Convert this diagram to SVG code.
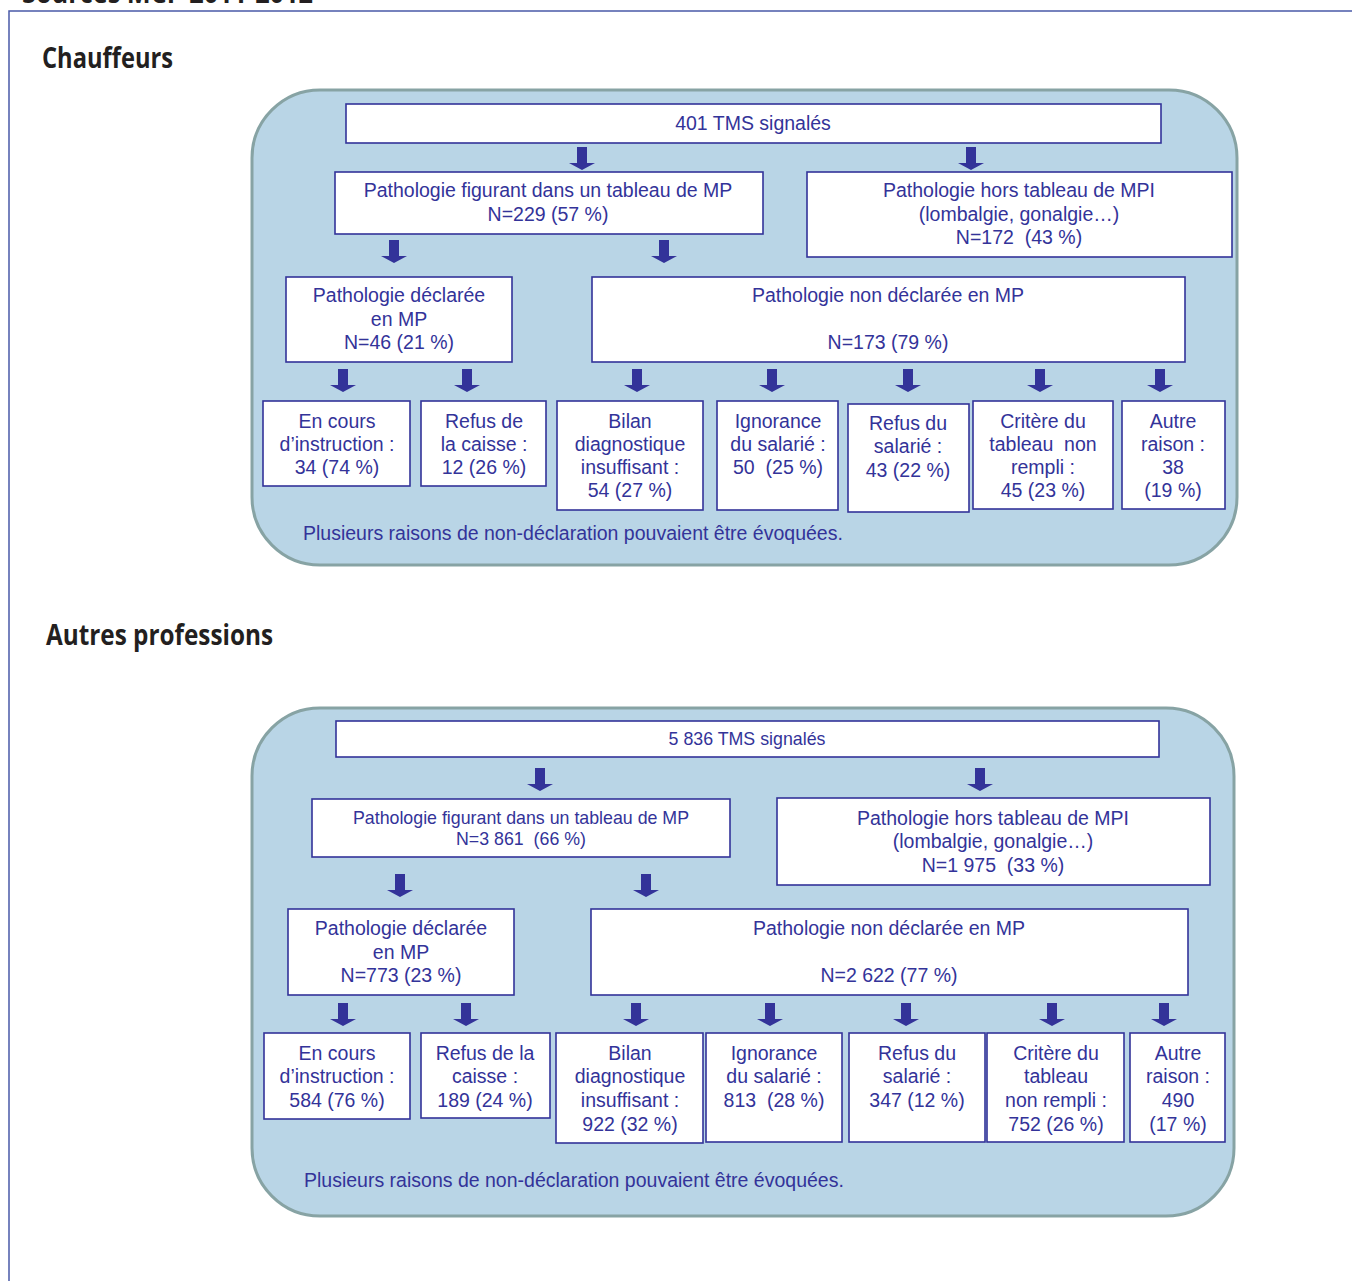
<svg xmlns="http://www.w3.org/2000/svg" xmlns:xlink="http://www.w3.org/1999/xlink" width="1352" height="1281" viewBox="0 0 1352 1281">
<style>
.bg{fill:#ffffff}
.frame{fill:none;stroke:#4a5aa8;stroke-width:1.5}
.panel{fill:#b9d5e6;stroke:#87a3a4;stroke-width:3}
.box{fill:#ffffff;stroke:#333399;stroke-width:1.6}
.t{font-family:"Liberation Sans",Arial,sans-serif;font-size:19.5px;fill:#333399;text-anchor:middle;white-space:pre}
.ts{font-size:17.8px}
.note{font-family:"Liberation Sans",Arial,sans-serif;font-size:19.5px;fill:#333399}
.h{font-family:"Open Sans","Noto Sans",sans-serif;font-weight:700;font-size:28px;fill:#231f20}
.arr{fill:#333399}
</style>
<defs>
<path id="arr" d="M-5,0 H5 V16 H13 L0,23 L-13,16 H-5 Z"/>
</defs>
<rect class="bg" x="0" y="0" width="1352" height="1281"/>
<text class="h" x="22" y="3" textLength="291" lengthAdjust="spacingAndGlyphs">Sources MCP 2011-2012</text>
<path class="frame" d="M9,1281 V11 H1352"/>
<text class="h" x="42" y="68" textLength="131" lengthAdjust="spacingAndGlyphs">Chauffeurs</text>
<text class="h" x="46" y="645" textLength="227" lengthAdjust="spacingAndGlyphs">Autres professions</text>

<!-- Panel 1 -->
<rect class="panel" x="252" y="90" width="985" height="475" rx="68" ry="68"/>
<g id="p1-total"><rect class="box" x="346" y="104" width="815" height="39"/><text class="t" x="753" y="130">401 TMS signalés</text></g>
<g id="p1-tab"><rect class="box" x="335" y="172" width="428" height="62"/><text class="t" x="548" y="197">Pathologie figurant dans un tableau de MP</text><text class="t" x="548" y="221">N=229 (57 %)</text></g>
<g id="p1-hors"><rect class="box" x="807" y="172" width="425" height="85"/><text class="t" x="1019" y="197">Pathologie hors tableau de MPI</text><text class="t" x="1019" y="221">(lombalgie, gonalgie…)</text><text class="t" x="1019" y="244" xml:space="preserve">N=172  (43 %)</text></g>
<g id="p1-decl"><rect class="box" x="286" y="277" width="226" height="85"/><text class="t" x="399" y="302">Pathologie déclarée</text><text class="t" x="399" y="326">en MP</text><text class="t" x="399" y="349">N=46 (21 %)</text></g>
<g id="p1-nondecl"><rect class="box" x="592" y="277" width="593" height="85"/><text class="t" x="888" y="302">Pathologie non déclarée en MP</text><text class="t" x="888" y="349">N=173 (79 %)</text></g>
<g id="p1-encours"><rect class="box" x="263" y="401" width="147" height="85"/><text class="t" x="337" y="428">En cours</text><text class="t" x="337" y="451">d’instruction :</text><text class="t" x="337" y="474">34 (74 %)</text></g>
<g id="p1-refuscaisse"><rect class="box" x="421" y="401" width="125" height="85"/><text class="t" x="484" y="428">Refus de</text><text class="t" x="484" y="451">la caisse :</text><text class="t" x="484" y="474">12 (26 %)</text></g>
<g id="p1-bilan"><rect class="box" x="557" y="401" width="146" height="109"/><text class="t" x="630" y="428">Bilan</text><text class="t" x="630" y="451">diagnostique</text><text class="t" x="630" y="474">insuffisant :</text><text class="t" x="630" y="497">54 (27 %)</text></g>
<g id="p1-ignorance"><rect class="box" x="717" y="401" width="121" height="109"/><text class="t" x="778" y="428">Ignorance</text><text class="t" x="778" y="451">du salarié :</text><text class="t" x="778" y="474" xml:space="preserve">50  (25 %)</text></g>
<g id="p1-refussal"><rect class="box" x="848" y="404" width="121" height="108"/><text class="t" x="908" y="430">Refus du</text><text class="t" x="908" y="453">salarié :</text><text class="t" x="908" y="477">43 (22 %)</text></g>
<g id="p1-critere"><rect class="box" x="973" y="401" width="140" height="108"/><text class="t" x="1043" y="428">Critère du</text><text class="t" x="1043" y="451" xml:space="preserve">tableau  non</text><text class="t" x="1043" y="474">rempli :</text><text class="t" x="1043" y="497">45 (23 %)</text></g>
<g id="p1-autre"><rect class="box" x="1122" y="401" width="103" height="108"/><text class="t" x="1173" y="428">Autre</text><text class="t" x="1173" y="451">raison :</text><text class="t" x="1173" y="474">38</text><text class="t" x="1173" y="497">(19 %)</text></g>
<text class="note" x="303" y="540">Plusieurs raisons de non-déclaration pouvaient être évoquées.</text>

<!-- Panel 2 -->
<rect class="panel" x="252" y="708" width="982" height="508" rx="68" ry="68"/>
<g id="p2-total"><rect class="box" x="336" y="721" width="823" height="36"/><text class="t ts" x="747" y="745">5 836 TMS signalés</text></g>
<g id="p2-tab"><rect class="box" x="312" y="799" width="418" height="58"/><text class="t ts" x="521" y="824">Pathologie figurant dans un tableau de MP</text><text class="t ts" x="521" y="845" xml:space="preserve">N=3 861  (66 %)</text></g>
<g id="p2-hors"><rect class="box" x="777" y="798" width="433" height="87"/><text class="t" x="993" y="825">Pathologie hors tableau de MPI</text><text class="t" x="993" y="848">(lombalgie, gonalgie…)</text><text class="t" x="993" y="872" xml:space="preserve">N=1 975  (33 %)</text></g>
<g id="p2-decl"><rect class="box" x="288" y="909" width="226" height="86"/><text class="t" x="401" y="935">Pathologie déclarée</text><text class="t" x="401" y="959">en MP</text><text class="t" x="401" y="982">N=773 (23 %)</text></g>
<g id="p2-nondecl"><rect class="box" x="591" y="909" width="597" height="86"/><text class="t" x="889" y="935">Pathologie non déclarée en MP</text><text class="t" x="889" y="982">N=2 622 (77 %)</text></g>
<g id="p2-encours"><rect class="box" x="264" y="1033" width="146" height="86"/><text class="t" x="337" y="1060">En cours</text><text class="t" x="337" y="1083">d’instruction :</text><text class="t" x="337" y="1107">584 (76 %)</text></g>
<g id="p2-refuscaisse"><rect class="box" x="421" y="1033" width="129" height="85"/><text class="t" x="485" y="1060">Refus de la</text><text class="t" x="485" y="1083">caisse :</text><text class="t" x="485" y="1107">189 (24 %)</text></g>
<g id="p2-bilan"><rect class="box" x="556" y="1033" width="147" height="110"/><text class="t" x="630" y="1060">Bilan</text><text class="t" x="630" y="1083">diagnostique</text><text class="t" x="630" y="1107">insuffisant :</text><text class="t" x="630" y="1131">922 (32 %)</text></g>
<g id="p2-ignorance"><rect class="box" x="706" y="1033" width="136" height="109"/><text class="t" x="774" y="1060">Ignorance</text><text class="t" x="774" y="1083">du salarié :</text><text class="t" x="774" y="1107" xml:space="preserve">813  (28 %)</text></g>
<g id="p2-refussal"><rect class="box" x="849" y="1033" width="136" height="109"/><text class="t" x="917" y="1060">Refus du</text><text class="t" x="917" y="1083">salarié :</text><text class="t" x="917" y="1107">347 (12 %)</text></g>
<g id="p2-critere"><rect class="box" x="987" y="1033" width="137" height="109"/><text class="t" x="1056" y="1060">Critère du</text><text class="t" x="1056" y="1083">tableau</text><text class="t" x="1056" y="1107">non rempli :</text><text class="t" x="1056" y="1131">752 (26 %)</text></g>
<g id="p2-autre"><rect class="box" x="1130" y="1033" width="95" height="109"/><text class="t" x="1178" y="1060">Autre</text><text class="t" x="1178" y="1083">raison :</text><text class="t" x="1178" y="1107">490</text><text class="t" x="1178" y="1131">(17 %)</text></g>
<text class="note" x="304" y="1187">Plusieurs raisons de non-déclaration pouvaient être évoquées.</text>

<g id="connectors" class="arr">
<use href="#arr" x="582" y="147"/>
<use href="#arr" x="971" y="147"/>
<use href="#arr" x="394" y="240"/>
<use href="#arr" x="664" y="240"/>
<use href="#arr" x="343" y="369"/>
<use href="#arr" x="467" y="369"/>
<use href="#arr" x="637" y="369"/>
<use href="#arr" x="772" y="369"/>
<use href="#arr" x="908" y="369"/>
<use href="#arr" x="1040" y="369"/>
<use href="#arr" x="1160" y="369"/>
<use href="#arr" x="540" y="768"/>
<use href="#arr" x="980" y="768"/>
<use href="#arr" x="400" y="874"/>
<use href="#arr" x="646" y="874"/>
<use href="#arr" x="343" y="1003"/>
<use href="#arr" x="466" y="1003"/>
<use href="#arr" x="636" y="1003"/>
<use href="#arr" x="770" y="1003"/>
<use href="#arr" x="906" y="1003"/>
<use href="#arr" x="1052" y="1003"/>
<use href="#arr" x="1164" y="1003"/>
</g>
</svg>
